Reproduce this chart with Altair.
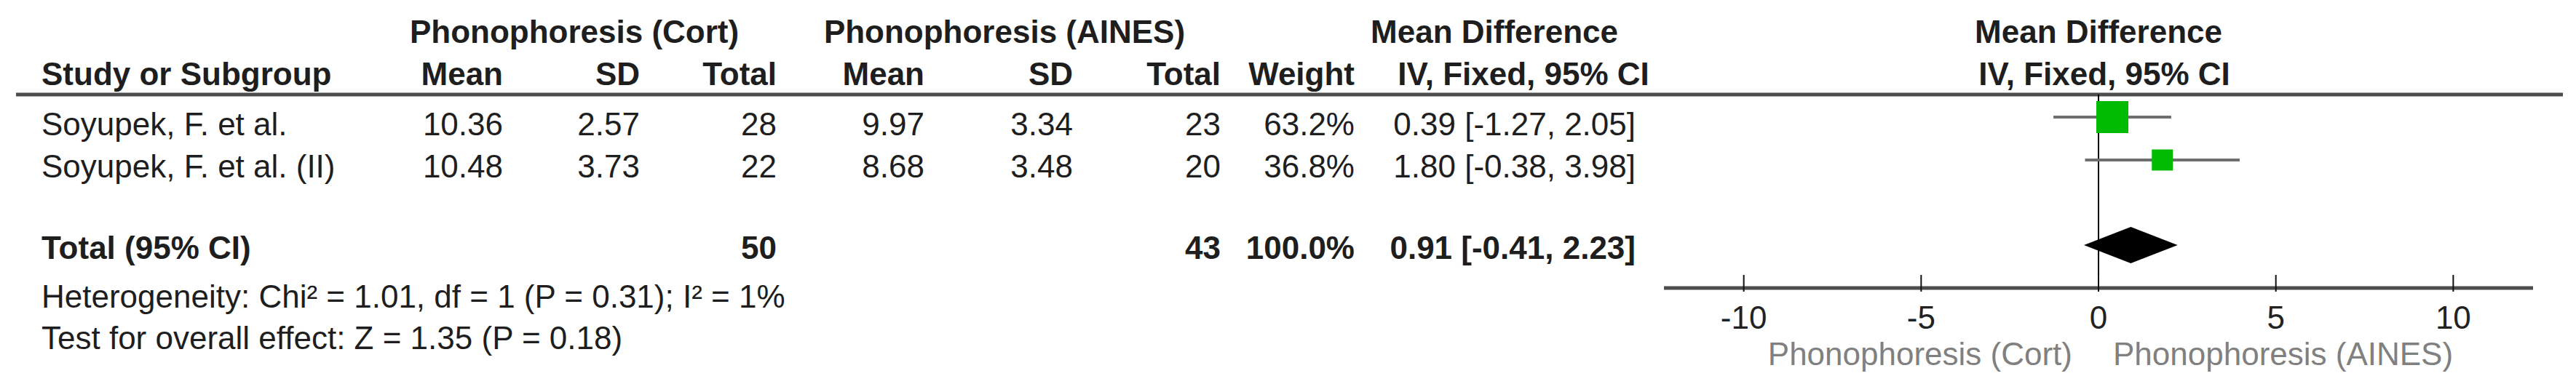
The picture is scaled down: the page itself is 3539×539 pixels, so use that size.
import altair as alt
import pandas as pd

# ---------------- data ----------------
studies = ["Soyupek, F. et al.", "Soyupek, F. et al. (II)"]
cort_mean = [10.36, 10.48]
cort_sd = [2.57, 3.73]
cort_n = [28, 22]
aines_mean = [9.97, 8.68]
aines_sd = [3.34, 3.48]
aines_n = [23, 20]
weights = [63.2, 36.8]
md = [0.39, 1.80]
md_lo = [-1.27, -0.38]
md_hi = [2.05, 3.98]

total_label = "Total (95% CI)"
total_cort_n = 50
total_aines_n = 43
total_weight = 100.0
total_md = 0.91
total_lo = -0.41
total_hi = 2.23

heterogeneity = "Heterogeneity: Chi\u00b2 = 1.01, df = 1 (P = 0.31); I\u00b2 = 1%"
overall_effect = "Test for overall effect: Z = 1.35 (P = 0.18)"

group_left = "Phonophoresis (Cort)"
group_right = "Phonophoresis (AINES)"
ticks = [-10, -5, 0, 5, 10]
axis_extent = [-12.25, 12.25]

# ---------------- layout (pixels) ----------------
W, H = 3518, 518
FONT = "Liberation Sans"
FS = 44
TEXT = "#1e1e1e"

COL = dict(left=49, m1=683, sd1=871, n1=1059, m2=1262, sd2=1466, n2=1669,
           w=1853, ci=2239, cort_c=781, aines_c=1372, md_c=2045, iv_c=2085)
ROW = dict(h1=51, h2=109, rows=[178, 236], total=348, het=415, test=472)
LINE_Y = 122          # header rule
ROW_MID = [153, 212]  # forest marker centres
TOTAL_MID = 329
DIAMOND_HALF = 25
AXIS_Y = 388
TICK_TOP = 370
TICK_BOT = 393
TICK_LABEL_Y = 444
FAV_Y = 494

tx = alt.Scale(domain=[0, W], range=[0, W])
ty = alt.Scale(domain=[0, H], range=[0, H])
fx = alt.Scale(domain=axis_extent, range=[2278, 3472])


def fmt_ci(m, lo, hi):
    return f"{m:.2f} [{lo:.2f}, {hi:.2f}]"


cells = []


def add(x, y, text, align="left", bold=False):
    cells.append(dict(x=x, y=y, text=text, align=align, bold=bold))


# headers
add(COL["cort_c"], ROW["h1"], group_left, "center", True)
add(COL["aines_c"], ROW["h1"], group_right, "center", True)
add(COL["md_c"], ROW["h1"], "Mean Difference", "center", True)
add(COL["left"], ROW["h2"], "Study or Subgroup", "left", True)
for key, lab in [("m1", "Mean"), ("sd1", "SD"), ("n1", "Total"), ("m2", "Mean"),
                 ("sd2", "SD"), ("n2", "Total"), ("w", "Weight")]:
    add(COL[key], ROW["h2"], lab, "right", True)
add(COL["iv_c"], ROW["h2"], "IV, Fixed, 95% CI", "center", True)

# study rows
for i, s in enumerate(studies):
    y = ROW["rows"][i]
    add(COL["left"], y, s)
    add(COL["m1"], y, f"{cort_mean[i]:.2f}", "right")
    add(COL["sd1"], y, f"{cort_sd[i]:.2f}", "right")
    add(COL["n1"], y, f"{cort_n[i]}", "right")
    add(COL["m2"], y, f"{aines_mean[i]:.2f}", "right")
    add(COL["sd2"], y, f"{aines_sd[i]:.2f}", "right")
    add(COL["n2"], y, f"{aines_n[i]}", "right")
    add(COL["w"], y, f"{weights[i]:.1f}%", "right")
    add(COL["ci"], y, fmt_ci(md[i], md_lo[i], md_hi[i]), "right")

# total row
y = ROW["total"]
add(COL["left"], y, total_label, "left", True)
add(COL["n1"], y, f"{total_cort_n}", "right", True)
add(COL["n2"], y, f"{total_aines_n}", "right", True)
add(COL["w"], y, f"{total_weight:.1f}%", "right", True)
add(COL["ci"], y, fmt_ci(total_md, total_lo, total_hi), "right", True)

add(COL["left"], ROW["het"], heterogeneity)
add(COL["left"], ROW["test"], overall_effect)

cells_df = pd.DataFrame(cells)

text_layers = []
for (align, bold), grp in cells_df.groupby(["align", "bold"]):
    text_layers.append(
        alt.Chart(grp[["x", "y", "text"]]).mark_text(
            align=align, baseline="alphabetic", font=FONT, fontSize=FS,
            fontWeight="bold" if bold else "normal", color=TEXT
        ).encode(
            x=alt.X("x:Q", scale=tx, axis=None),
            y=alt.Y("y:Q", scale=ty, axis=None),
            text="text:N",
        )
    )

header_rule = alt.Chart(pd.DataFrame({"x": [14], "x2": [3513], "y": [LINE_Y]})).mark_rule(
    color="#4d4d4d", strokeWidth=5
).encode(
    x=alt.X("x:Q", scale=tx, axis=None), x2="x2:Q",
    y=alt.Y("y:Q", scale=ty, axis=None),
)

table = alt.layer(header_rule, *text_layers)

# ---------------- forest plot ----------------
studies_df = pd.DataFrame({
    "study": studies, "md": md, "lo": md_lo, "hi": md_hi,
    "weight": weights, "y": ROW_MID,
})

X = lambda f: alt.X(f, scale=fx, axis=None)
Y = lambda f: alt.Y(f, scale=ty, axis=None)

zero_line = alt.Chart(pd.DataFrame({"x": [0], "y": [LINE_Y], "y2": [AXIS_Y]})).mark_rule(
    color="#000000", strokeWidth=2
).encode(x=X("x:Q"), y=Y("y:Q"), y2="y2:Q")

ci_rules = alt.Chart(studies_df).mark_rule(color="#6e6e6e", strokeWidth=4).encode(
    x=X("lo:Q"), x2="hi:Q", y=Y("y:Q")
)

squares = alt.Chart(studies_df).mark_square(color="#00bb00", opacity=1, filled=True).encode(
    x=X("md:Q"), y=Y("y:Q"),
    size=alt.Size("weight:Q", scale=alt.Scale(domain=[36.8, 63.2], range=[841, 1936]), legend=None),
)

diamond_df = pd.DataFrame({
    "x": [total_lo, total_md, total_hi],
    "y": [TOTAL_MID, TOTAL_MID - DIAMOND_HALF, TOTAL_MID],
    "y2": [TOTAL_MID, TOTAL_MID + DIAMOND_HALF, TOTAL_MID],
})
diamond = alt.Chart(diamond_df).mark_area(color="#000000", opacity=1).encode(
    x=X("x:Q"), y=Y("y:Q"), y2="y2:Q"
)

axis_line = alt.Chart(pd.DataFrame({"x": [axis_extent[0]], "x2": [axis_extent[1]], "y": [AXIS_Y]})).mark_rule(
    color="#4d4d4d", strokeWidth=5
).encode(x=X("x:Q"), x2="x2:Q", y=Y("y:Q"))

ticks_df = pd.DataFrame({"t": ticks, "label": [f"{t}" for t in ticks],
                         "y": [TICK_TOP] * len(ticks), "y2": [TICK_BOT] * len(ticks),
                         "ly": [TICK_LABEL_Y] * len(ticks)})
tick_rules = alt.Chart(ticks_df).mark_rule(color="#111111", strokeWidth=2).encode(
    x=X("t:Q"), y=Y("y:Q"), y2="y2:Q"
)
tick_labels = alt.Chart(ticks_df).mark_text(
    align="center", baseline="alphabetic", font=FONT, fontSize=FS, color="#222222"
).encode(x=X("t:Q"), y=Y("ly:Q"), text="label:N")

fav_df = pd.DataFrame({"x": [0], "y": [FAV_Y], "l": [group_left], "r": [group_right]})
fav_left = alt.Chart(fav_df).mark_text(
    align="right", baseline="alphabetic", font=FONT, fontSize=FS, color="#808080", dx=-36
).encode(x=X("x:Q"), y=Y("y:Q"), text="l:N")
fav_right = alt.Chart(fav_df).mark_text(
    align="left", baseline="alphabetic", font=FONT, fontSize=FS, color="#808080", dx=20
).encode(x=X("x:Q"), y=Y("y:Q"), text="r:N")

fh_df = pd.DataFrame({"x": [0, 0], "y": [ROW["h1"], ROW["h2"]],
                      "text": ["Mean Difference", "IV, Fixed, 95% CI"], "dx": [0, 8]})
forest_h1 = alt.Chart(fh_df.iloc[[0]]).mark_text(
    align="center", baseline="alphabetic", font=FONT, fontSize=FS, fontWeight="bold", color=TEXT
).encode(x=X("x:Q"), y=Y("y:Q"), text="text:N")
forest_h2 = alt.Chart(fh_df.iloc[[1]]).mark_text(
    align="center", baseline="alphabetic", font=FONT, fontSize=FS, fontWeight="bold", color=TEXT, dx=8
).encode(x=X("x:Q"), y=Y("y:Q"), text="text:N")

forest = alt.layer(zero_line, ci_rules, squares, diamond, axis_line, tick_rules,
                   tick_labels, fav_left, fav_right, forest_h1, forest_h2)

chart = alt.layer(table, forest).resolve_scale(x="independent").properties(
    width=W, height=H, padding=0, background="white"
).configure_view(stroke=None)

chart.save("out.html", embed_options={"renderer": "svg", "actions": False})
